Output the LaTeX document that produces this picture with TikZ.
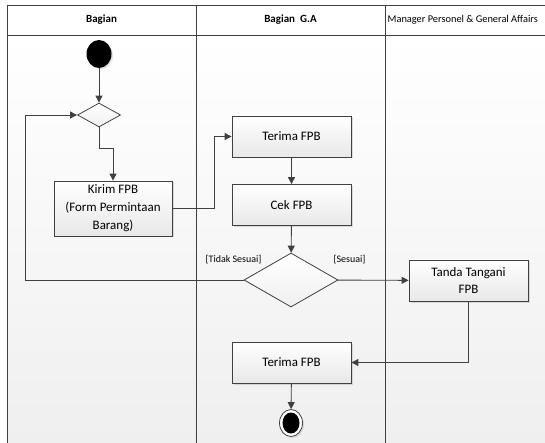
\documentclass[tikz,border=0pt]{standalone}
\usepackage{fontspec}
\setmainfont{Carlito}
\usetikzlibrary{arrows.meta,shapes.geometric,shadows}
\definecolor{linegray}{HTML}{404040}
\definecolor{lanegray}{HTML}{EFEFEF}
\tikzset{lane/.style={draw=linegray,line width=0.8pt}}
\tikzset{flow/.style={draw=linegray,line width=0.9pt,-{Triangle[length=7bp,width=7bp]}}}
\tikzset{activity/.style={rectangle,draw=linegray,line width=0.8pt,top color=white,bottom color=black!9,
    minimum width=119bp,minimum height=41bp,inner sep=0pt,align=center,
    font=\fontsize{13}{18}\selectfont,
    drop shadow={opacity=0.25,shadow xshift=1.5bp,shadow yshift=-1.5bp}}}
\tikzset{branch/.style={diamond,draw=linegray,line width=0.8pt,top color=white,bottom color=black!6,inner sep=0pt}}
\tikzset{guard/.style={font=\fontsize{10}{12}\selectfont,inner sep=0pt}}
\tikzset{lanetitle/.style={font=\fontsize{10.4}{13}\selectfont,inner sep=0pt}}

\begin{document}
\begin{tikzpicture}[x=1bp,y=-1bp]
  \useasboundingbox (0,0) rectangle (545,443);
  % swimlanes
  \shade[top color=white,bottom color=lanegray] (7,35) rectangle (580,443);
  \draw[lane] (7,443) -- (7,5) -- (580,5);
  \draw[lane] (7,35) -- (580,35);
  \draw[lane] (196,5) -- (196,443);
  \draw[lane] (385,5) -- (385,443);
  \node[lanetitle,font=\fontsize{11}{13}\selectfont\bfseries] (bagian) at (101.5,20) {Bagian};
  \node[lanetitle,font=\fontsize{11}{13}\selectfont\bfseries] (bagianga) at (290.5,20) {Bagian\ \ G.A};
  \node[lanetitle,anchor=west] (manager) at (387.5,20) {Manager Personel \& General Affairs};

  % activities
  \node[ellipse,fill=black,minimum width=25bp,minimum height=28bp,inner sep=0pt,
    drop shadow={opacity=0.2,shadow xshift=1.5bp,shadow yshift=-1.5bp}] (start) at (99,54) {};
  \node[branch,minimum width=43bp,minimum height=24bp] (merge) at (99,115) {};
  \node[activity,minimum width=118bp,minimum height=55bp] (kirim) at (113,208.5) {Kirim FPB\\(Form Permintaan\\Barang)};
  \node[activity] (terima) at (291.5,136.5) {Terima FPB};
  \node[activity] (cek) at (291.5,205) {Cek FPB};
  \node[branch,minimum width=94bp,minimum height=54bp] (decision) at (291,280) {};
  \node[activity] (tanda) at (468.5,280.5) {Tanda Tangani\\FPB};
  \node[activity] (terimadua) at (291.5,362.5) {Terima FPB};
  \node[ellipse,draw=linegray,line width=0.8pt,fill=white,minimum width=23bp,minimum height=27bp,inner sep=0pt,
    drop shadow={opacity=0.2,shadow xshift=1.5bp,shadow yshift=-1.5bp}] (endring) at (291,423) {};
  \node[ellipse,fill=black,minimum width=17bp,minimum height=21bp,inner sep=0pt] (enddot) at (291,423) {};

  \node[guard] (tidak) at (233.5,260) {[Tidak Sesuai]};
  \node[guard] (sesuai) at (349.5,260) {[Sesuai]};

  % connectors
  \coordinate (loopcorner) at (25,280);
  \draw[flow] (start) -- (merge);
  \draw[flow] (merge.south) -- ++(0,21) -| (kirim.north);
  \draw[flow] (kirim.east) -- ++(42,0) |- (terima.west);
  \draw[flow] (terima) -- (cek);
  \draw[flow] (cek) -- (decision);
  \draw[flow] (decision) -- (tanda);
  \draw[flow] (decision.west) -- (loopcorner) |- (merge.west);
  \draw[flow] (tanda.south) |- (terimadua.east);
  \draw[flow] (terimadua) -- (endring);
\end{tikzpicture}
\end{document}
